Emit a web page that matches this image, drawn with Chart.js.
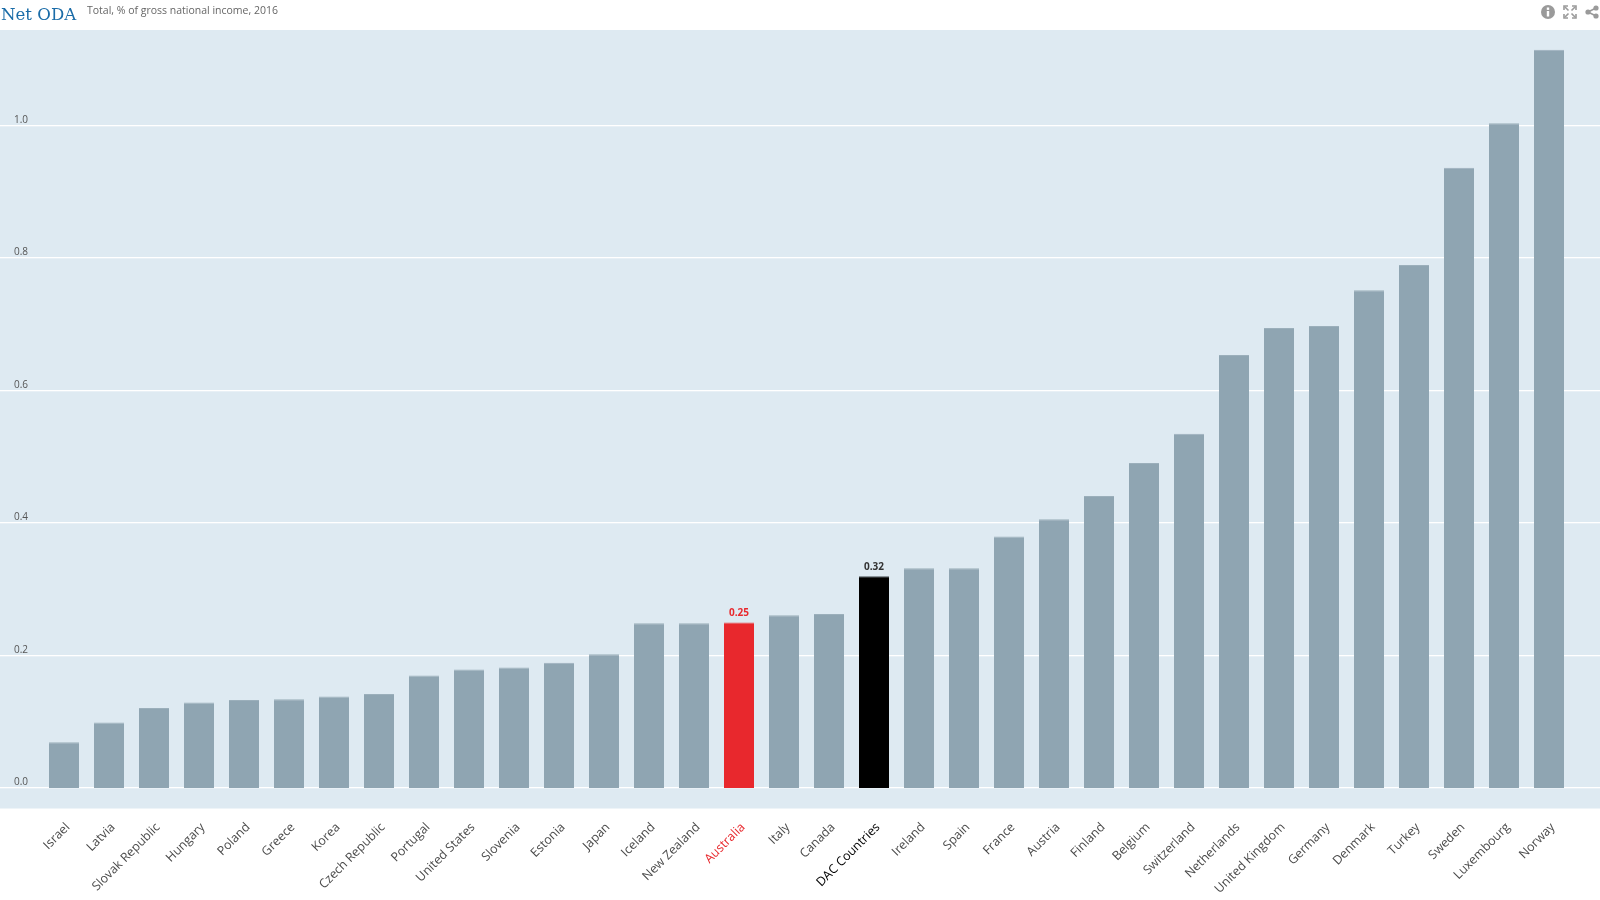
<!DOCTYPE html>
<html>
<head>
<meta charset="utf-8">
<title>Net ODA</title>
<script src="https://cdn.jsdelivr.net/npm/chart.js@4/dist/chart.umd.min.js"></script>
<style>
  html, body { margin: 0; padding: 0; background: #fff; overflow: hidden; }
  #wrap { position: relative; width: 1600px; height: 900px; }
  #chart { position: absolute; left: 0; top: 0; }
  #title { position: absolute; left: 1px; top: 5px; font: 16.6px "DejaVu Serif", serif; color: #1a6ca8; }
  #subtitle { position: absolute; left: 87px; top: 3px; font: 10.5px "Open Sans", sans-serif; color: #666; }
  #icons { position: absolute; left: 1540px; top: 4px; }
</style>
</head>
<body>
<div id="wrap">
  <canvas id="chart" width="1600" height="900"></canvas>
  <div id="title">Net ODA</div>
  <div id="subtitle">Total, % of gross national income, 2016</div>
  <svg id="icons" width="60" height="16" viewBox="0 0 60 16">
    <circle cx="8" cy="8" r="7" fill="#9a9a9a"/>
    <rect x="6.8" y="7" width="2.4" height="5.5" fill="#fff"/>
    <rect x="6.8" y="3.5" width="2.4" height="2.4" fill="#fff"/>
    <g stroke="#9a9a9a" stroke-width="1.6" fill="none">
      <path d="M24 6V2h4M32 2h4v4M36 10v4h-4M28 14h-4v-4"/>
      <path d="M25 3l3.5 3.5M35 3l-3.5 3.5M35 13l-3.5-3.5M25 13l3.5-3.5"/>
      <path d="M56 4L48 8l8 4"/>
    </g>
    <circle cx="48" cy="8" r="2.6" fill="#9a9a9a"/>
    <circle cx="56" cy="4" r="2.6" fill="#9a9a9a"/>
    <circle cx="56" cy="12" r="2.6" fill="#9a9a9a"/>
  </svg>
</div>
<script>
const countries = [
  'Israel', 'Latvia', 'Slovak Republic', 'Hungary', 'Poland', 'Greece', 'Korea',
  'Czech Republic', 'Portugal', 'United States', 'Slovenia', 'Estonia', 'Japan',
  'Iceland', 'New Zealand', 'Australia', 'Italy', 'Canada', 'DAC Countries',
  'Ireland', 'Spain', 'France', 'Austria', 'Finland', 'Belgium', 'Switzerland',
  'Netherlands', 'United Kingdom', 'Germany', 'Denmark', 'Turkey', 'Sweden',
  'Luxembourg', 'Norway'
];
const netOda = [
  0.069, 0.099, 0.121, 0.129, 0.133, 0.134, 0.138,
  0.142, 0.170, 0.179, 0.182, 0.189, 0.202,
  0.249, 0.249, 0.250, 0.261, 0.263, 0.320,
  0.332, 0.332, 0.380, 0.406, 0.441, 0.491, 0.535,
  0.654, 0.695, 0.698, 0.752, 0.790, 0.937,
  1.004, 1.115
];
const yTicks = [0, 0.2, 0.4, 0.6, 0.8, 1.0];
const labelledCountries = ['Australia', 'DAC Countries'];

function barColor(ctx) {
  const name = countries[ctx.dataIndex];
  if (name === 'Australia') return '#e8282d';
  if (name === 'DAC Countries') return '#000000';
  return '#8fa5b2';
}

function barEdgeColor(ctx) {
  const name = countries[ctx.dataIndex];
  if (name === 'Australia') return '#e84a4e';
  if (name === 'DAC Countries') return '#4a5258';
  return '#9bafbb';
}

function labelColor(name) {
  if (name === 'Australia') return '#e8282d';
  if (name === 'DAC Countries') return '#000000';
  return '#4a4a4a';
}

// Panel, full width gridlines and the y labels that sit on top of them
const panelPlugin = {
  id: 'panel',
  beforeDatasetsDraw(chart) {
    const { ctx, chartArea, scales } = chart;
    ctx.save();
    ctx.fillStyle = '#deeaf2';
    ctx.fillRect(0, chartArea.top, chart.width, chartArea.bottom - chartArea.top);
    ctx.font = '10px "Open Sans", sans-serif';
    ctx.textAlign = 'left';
    ctx.textBaseline = 'alphabetic';
    yTicks.forEach(function (value) {
      const y = Math.round(scales.y.getPixelForValue(value));
      ctx.fillStyle = '#ffffff';
      ctx.fillRect(0, y - 1, chart.width, 1.3);
      ctx.fillStyle = '#555555';
      ctx.fillText(value.toFixed(1), 14, y - 3);
    });
    ctx.restore();
  }
};

// Value labels over the highlighted bars
const valueLabelPlugin = {
  id: 'valueLabels',
  afterDatasetsDraw(chart) {
    const { ctx } = chart;
    const meta = chart.getDatasetMeta(0);
    ctx.save();
    ctx.font = 'bold 10px "Open Sans", sans-serif';
    ctx.textAlign = 'center';
    ctx.textBaseline = 'alphabetic';
    labelledCountries.forEach(function (name) {
      const i = countries.indexOf(name);
      ctx.fillStyle = name === 'Australia' ? '#e8282d' : '#333333';
      ctx.fillText(netOda[i].toFixed(2), meta.data[i].x, meta.data[i].y - 6);
    });
    ctx.restore();
  }
};

new Chart(document.getElementById('chart').getContext('2d'), {
  type: 'bar',
  data: {
    labels: countries,
    datasets: [{
      data: netOda,
      backgroundColor: barColor,
      borderColor: barEdgeColor,
      borderWidth: { top: 1, left: 0, right: 0, bottom: 0 },
      borderSkipped: false,
      barPercentage: 0.667,
      categoryPercentage: 1
    }]
  },
  options: {
    responsive: false,
    animation: false,
    layout: { padding: { left: 41.5, right: 28.5, top: 30, bottom: 0 } },
    plugins: { legend: { display: false }, tooltip: { enabled: false } },
    scales: {
      x: {
        grid: { display: false },
        border: { display: false },
        afterFit(scale) { scale.height = 91.5; },
        ticks: {
          autoSkip: false,
          minRotation: 45,
          maxRotation: 45,
          padding: 3.5,
          labelOffset: 4,
          font: { family: '"Open Sans", sans-serif', size: 12.4 },
          color(ctx) { return labelColor(countries[ctx.index]); }
        }
      },
      y: {
        display: false,
        min: -0.031,
        max: 1.145
      }
    }
  },
  plugins: [panelPlugin, valueLabelPlugin]
});
</script>
</body>
</html>
